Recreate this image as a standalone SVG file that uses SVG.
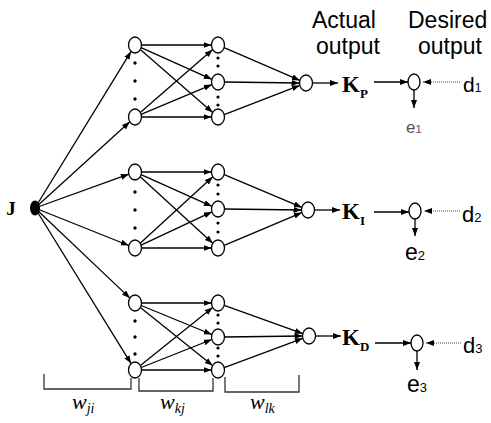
<svg xmlns="http://www.w3.org/2000/svg" width="491" height="423" viewBox="0 0 491 423">
<defs>
<marker id="ah" markerUnits="userSpaceOnUse" markerWidth="9" markerHeight="7" refX="8" refY="3" orient="auto">
<path d="M0,0 L8,3 L0,6 z" fill="#000"/>
</marker>
<style>
.c{fill:none;stroke:#000;stroke-width:1.3;marker-end:url(#ah)}
.d{fill:none;stroke:#444;stroke-width:1;stroke-dasharray:1,1;marker-end:url(#ah)}
.n{fill:#fff;stroke:#000;stroke-width:1.3}
.dot{fill:#000}
.br{fill:none;stroke:#333;stroke-width:1.3}
.sans{font-family:"Liberation Sans",Arial,sans-serif;fill:#000}
.serb{font-family:"Liberation Serif","Times New Roman",serif;font-weight:bold;fill:#000}
.seri{font-family:"Liberation Serif","Times New Roman",serif;font-style:italic;fill:#000}
</style>
</defs>
<rect width="491" height="423" fill="#fff"/>

<g id="connectors">
<line class="c" x1="35" y1="208" x2="131.1" y2="51.4"/>
<line class="c" x1="35" y1="208" x2="129.8" y2="121.8"/>
<line class="c" x1="35" y1="208" x2="128.8" y2="174.2"/>
<line class="c" x1="35" y1="208" x2="128.8" y2="245.5"/>
<line class="c" x1="35" y1="208" x2="129.9" y2="298.1"/>
<line class="c" x1="35" y1="208" x2="131.1" y2="363.6"/>
<line class="c" x1="141.5" y1="45" x2="211.5" y2="45"/>
<line class="c" x1="141.1" y1="47.7" x2="211.9" y2="79.3"/>
<line class="c" x1="140.3" y1="49.6" x2="212.7" y2="112.4"/>
<line class="c" x1="140.3" y1="112.4" x2="212.7" y2="49.6"/>
<line class="c" x1="141.1" y1="114.4" x2="211.9" y2="84.6"/>
<line class="c" x1="141.5" y1="117" x2="211.5" y2="117"/>
<line class="c" x1="141.5" y1="172" x2="211.5" y2="172"/>
<line class="c" x1="141.1" y1="174.7" x2="211.9" y2="206.3"/>
<line class="c" x1="140.2" y1="176.8" x2="212.8" y2="243.2"/>
<line class="c" x1="140.2" y1="243.2" x2="212.8" y2="176.8"/>
<line class="c" x1="141.1" y1="245.1" x2="211.9" y2="211.9"/>
<line class="c" x1="141.5" y1="248" x2="211.5" y2="248"/>
<line class="c" x1="141.5" y1="303" x2="211.5" y2="303"/>
<line class="c" x1="141.2" y1="305.5" x2="211.8" y2="334.5"/>
<line class="c" x1="140.4" y1="307.4" x2="212.6" y2="365.6"/>
<line class="c" x1="140.4" y1="365.6" x2="212.6" y2="307.4"/>
<line class="c" x1="141.2" y1="367.5" x2="211.8" y2="339.5"/>
<line class="c" x1="141.5" y1="370" x2="211.5" y2="370"/>
<line class="c" x1="224.1" y1="47.6" x2="299.9" y2="80.4"/>
<line class="c" x1="224.5" y1="82" x2="299.5" y2="83"/>
<line class="c" x1="224.2" y1="114.6" x2="299.8" y2="85.4"/>
<line class="c" x1="224.2" y1="174.6" x2="301.9" y2="207.4"/>
<line class="c" x1="224.5" y1="209" x2="301.5" y2="210"/>
<line class="c" x1="224.2" y1="245.4" x2="301.9" y2="212.6"/>
<line class="c" x1="224.2" y1="305.3" x2="302.8" y2="333.7"/>
<line class="c" x1="224.5" y1="337" x2="302.5" y2="336"/>
<line class="c" x1="224.2" y1="367.7" x2="302.8" y2="338.3"/>
<line class="c" x1="312.5" y1="83" x2="338" y2="83"/>
<line class="c" x1="314.5" y1="210" x2="340" y2="210"/>
<line class="c" x1="315.5" y1="336" x2="341" y2="336"/>
<line class="c" x1="374" y1="82" x2="408" y2="82"/>
<line class="c" x1="374" y1="212" x2="409" y2="212"/>
<line class="c" x1="375" y1="343" x2="411" y2="343"/>
<line class="d" x1="460" y1="82" x2="423" y2="82"/>
<line class="d" x1="460" y1="211" x2="424" y2="211"/>
<line class="d" x1="461" y1="343" x2="426" y2="343"/>
<line class="c" x1="414" y1="90" x2="414" y2="108"/>
<line class="c" x1="415" y1="219" x2="415" y2="236"/>
<line class="c" x1="417" y1="351" x2="417" y2="370"/>
<path class="br" d="M44,374 V389 H131 V378"/>
<path class="br" d="M139,378 V391 H213 V378"/>
<path class="br" d="M225,377 V392 H299 V375"/>
</g>

<g id="input-J">
<ellipse cx="35" cy="208" rx="5" ry="7.5" fill="#000"/>
<text class="serb" x="11" y="215" font-size="19" text-anchor="middle">J</text>
</g>

<g id="group1">
<g id="g1-l1a"><ellipse class="n" cx="135" cy="45" rx="6.5" ry="8"/></g>
<g id="g1-l1b"><ellipse class="n" cx="135" cy="117" rx="6.5" ry="8"/></g>
<circle class="dot" cx="135" cy="63" r="1.7"/><circle class="dot" cx="135" cy="81" r="1.7"/><circle class="dot" cx="135" cy="99" r="1.7"/>
<g id="g1-l2a"><ellipse class="n" cx="218" cy="45" rx="6.5" ry="8"/></g>
<g id="g1-l2b"><ellipse class="n" cx="218" cy="82" rx="6.5" ry="8"/></g>
<g id="g1-l2c"><ellipse class="n" cx="218" cy="117" rx="6.5" ry="8"/></g>
<circle class="dot" cx="218" cy="58" r="1.6"/><circle class="dot" cx="218" cy="66" r="1.6"/>
<circle class="dot" cx="218" cy="97" r="1.6"/><circle class="dot" cx="218" cy="105" r="1.6"/>
<g id="g1-out"><ellipse class="n" cx="306" cy="83" rx="6.5" ry="8"/></g>
</g>

<g id="group2">
<g id="g2-l1a"><ellipse class="n" cx="135" cy="172" rx="6.5" ry="8"/></g>
<g id="g2-l1b"><ellipse class="n" cx="135" cy="248" rx="6.5" ry="8"/></g>
<circle class="dot" cx="135" cy="192" r="1.7"/><circle class="dot" cx="135" cy="210" r="1.7"/><circle class="dot" cx="135" cy="228" r="1.7"/>
<g id="g2-l2a"><ellipse class="n" cx="218" cy="172" rx="6.5" ry="8"/></g>
<g id="g2-l2b"><ellipse class="n" cx="218" cy="209" rx="6.5" ry="8"/></g>
<g id="g2-l2c"><ellipse class="n" cx="218" cy="248" rx="6.5" ry="8"/></g>
<circle class="dot" cx="218" cy="185" r="1.6"/><circle class="dot" cx="218" cy="194" r="1.6"/>
<circle class="dot" cx="218" cy="223" r="1.6"/><circle class="dot" cx="218" cy="232" r="1.6"/>
<g id="g2-out"><ellipse class="n" cx="308" cy="210" rx="6.5" ry="8"/></g>
</g>

<g id="group3">
<g id="g3-l1a"><ellipse class="n" cx="135" cy="303" rx="6.5" ry="8"/></g>
<g id="g3-l1b"><ellipse class="n" cx="135" cy="370" rx="6.5" ry="8"/></g>
<circle class="dot" cx="135" cy="321" r="1.7"/><circle class="dot" cx="135" cy="337" r="1.7"/><circle class="dot" cx="135" cy="354" r="1.7"/>
<g id="g3-l2a"><ellipse class="n" cx="218" cy="303" rx="6.5" ry="8"/></g>
<g id="g3-l2b"><ellipse class="n" cx="218" cy="337" rx="6.5" ry="8"/></g>
<g id="g3-l2c"><ellipse class="n" cx="218" cy="370" rx="6.5" ry="8"/></g>
<circle class="dot" cx="218" cy="315" r="1.6"/><circle class="dot" cx="218" cy="323" r="1.6"/>
<circle class="dot" cx="218" cy="348" r="1.6"/><circle class="dot" cx="218" cy="356" r="1.6"/>
<g id="g3-out"><ellipse class="n" cx="309" cy="336" rx="6.5" ry="8"/></g>
</g>

<g id="header">
<text class="sans" x="312" y="28" font-size="23">Actual</text>
<text class="sans" x="316" y="54" font-size="23">output</text>
<text class="sans" x="408" y="28" font-size="23">Desired</text>
<text class="sans" x="418" y="54" font-size="23">output</text>
</g>

<g id="gain-P"><text class="serb" x="342" y="92" font-size="23">K<tspan font-size="13" dy="6">P</tspan></text></g>
<g id="gain-I"><text class="serb" x="342" y="219" font-size="23">K<tspan font-size="13" dy="6">I</tspan></text></g>
<g id="gain-D"><text class="serb" x="342" y="345" font-size="23">K<tspan font-size="13" dy="6">D</tspan></text></g>

<g id="cmp1">
<ellipse class="n" cx="414" cy="82" rx="6" ry="8"/>
<text class="sans" x="463" y="92" font-size="21">d<tspan font-size="12">1</tspan></text>
<text class="sans" x="406" y="133" font-size="17" style="fill:#555">e<tspan font-size="11">1</tspan></text>
</g>
<g id="cmp2">
<ellipse class="n" cx="415" cy="211" rx="6" ry="8"/>
<text class="sans" x="462" y="222" font-size="22">d<tspan font-size="13">2</tspan></text>
<text class="sans" x="405" y="260" font-size="23">e<tspan font-size="13">2</tspan></text>
</g>
<g id="cmp3">
<ellipse class="n" cx="417" cy="343" rx="6" ry="8"/>
<text class="sans" x="463" y="353" font-size="22">d<tspan font-size="13">3</tspan></text>
<text class="sans" x="407" y="392" font-size="23">e<tspan font-size="13">3</tspan></text>
</g>

<g id="weights">
<text class="seri" x="72" y="409" font-size="22">w<tspan font-size="14" dy="4">ji</tspan></text>
<text class="seri" x="160" y="409" font-size="22">w<tspan font-size="14" dy="4">kj</tspan></text>
<text class="seri" x="250" y="409" font-size="22">w<tspan font-size="14" dy="4">lk</tspan></text>
</g>
</svg>
